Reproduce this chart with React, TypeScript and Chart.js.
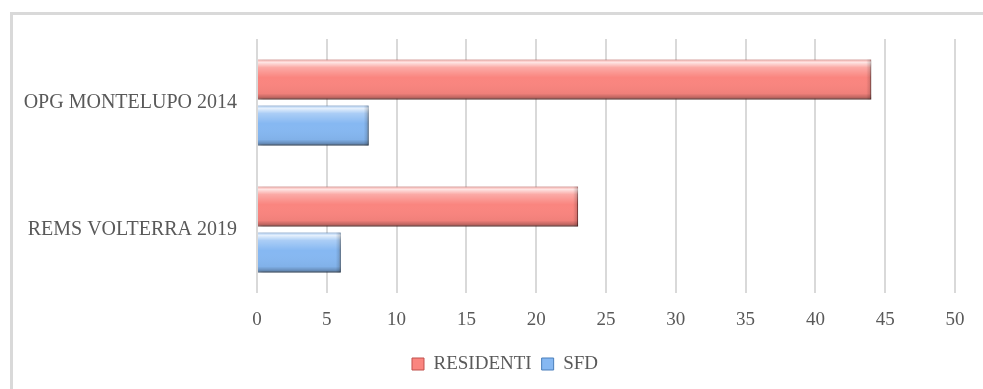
import React, { useEffect, useRef } from "react";
import { Chart, registerables } from "chart.js";

Chart.register(...registerables);

const categories = ["OPG MONTELUPO 2014", "REMS VOLTERRA 2019"];
const residenti = [44, 23];
const sfd = [8, 6];
const xTicks = [0, 5, 10, 15, 20, 25, 30, 35, 40, 45, 50];

const FONT = "'Liberation Serif', 'DejaVu Serif', serif";
const TEXT = "#595959";

const bevelPlugin = {
  id: "bevel",
  afterLayout(chart: any) {
    if (chart.legend) {
      chart.legend.left += 27.5;
      chart.legend.right += 27.5;
    }
  },
  beforeDatasetsDraw(chart: any) {
    const ctx = chart.ctx;
    ctx.save();
    ctx.shadowColor = "rgba(0,0,0,0.35)";
    ctx.shadowBlur = 4;
    ctx.shadowOffsetX = 2;
    ctx.shadowOffsetY = 2;
  },
  afterDatasetsDraw(chart: any) {
    const ctx = chart.ctx;
    ctx.restore();
    chart.data.datasets.forEach((_ds: any, i: number) => {
      const meta = chart.getDatasetMeta(i);
      meta.data.forEach((el: any) => {
        const { x, y, base, height } = el.getProps(["x", "y", "base", "height"], true);
        const left = Math.min(x, base);
        const w = Math.abs(x - base);
        const top = y - height / 2;
        ctx.save();
        const g = ctx.createLinearGradient(0, top, 0, top + height);
        g.addColorStop(0, "rgba(255,255,255,0.15)");
        g.addColorStop(0.07, "rgba(255,255,255,0.8)");
        g.addColorStop(0.2, "rgba(255,255,255,0.3)");
        g.addColorStop(0.45, "rgba(255,255,255,0.0)");
        g.addColorStop(0.85, "rgba(0,0,0,0.04)");
        g.addColorStop(0.93, "rgba(0,0,0,0.2)");
        g.addColorStop(1, "rgba(0,0,0,0.38)");
        ctx.fillStyle = g;
        ctx.fillRect(left, top, w, height);
        const gr = ctx.createLinearGradient(left + w - 5, 0, left + w, 0);
        gr.addColorStop(0, "rgba(0,0,0,0)");
        gr.addColorStop(1, "rgba(0,0,0,0.2)");
        ctx.fillStyle = gr;
        ctx.fillRect(left + w - 5, top, 5, height);
        ctx.restore();
      });
    });
  },
};

export default function App() {
  const ref = useRef<HTMLCanvasElement>(null);
  useEffect(() => {
    if (!ref.current) return;
    const chart = new Chart(ref.current, {
      type: "bar",
      data: {
        labels: categories,
        datasets: [
          {
            label: "RESIDENTI",
            data: residenti,
            backgroundColor: "#fa857f",
            borderColor: "#c0504d",
            borderWidth: 1,
            categoryPercentage: 0.725,
            barPercentage: 0.87,
          },
          {
            label: "SFD",
            data: sfd,
            backgroundColor: "#86b8f2",
            borderColor: "#4a7ebb",
            borderWidth: 1,
            categoryPercentage: 0.725,
            barPercentage: 0.87,
          },
        ],
      },
      options: {
        indexAxis: "y",
        responsive: false,
        animation: false,
        layout: { padding: { left: 0, right: 28, top: 39, bottom: 5.5 } },
        scales: {
          x: {
            min: 0,
            max: 50,
            afterBuildTicks: (s: any) => {
              s.ticks = xTicks.map((v) => ({ value: v }));
            },
            afterFit: (s: any) => {
              s.height = 51.5;
            },
            grid: { color: "#d9d9d9", lineWidth: 2, drawTicks: false },
            border: { display: false },
            ticks: { color: TEXT, font: { family: FONT, size: 19 }, padding: 16 },
          },
          y: {
            afterFit: (s: any) => {
              s.width = 257;
            },
            grid: { display: false, drawTicks: false },
            border: { display: false },
            ticks: { color: TEXT, font: { family: FONT, size: 20 }, padding: 20 },
          },
        },
        plugins: {
          legend: {
            position: "bottom",
            labels: {
              color: TEXT,
              font: { family: FONT, size: 19 },
              boxWidth: 12,
              boxHeight: 12,
              padding: 10,
            },
          },
          tooltip: { enabled: false },
        },
      },
      plugins: [bevelPlugin],
    } as any);
    return () => chart.destroy();
  }, []);
  return (
    <div
      style={{
        position: "fixed",
        left: 0,
        top: 0,
        width: 983,
        height: 389,
        overflow: "hidden",
        background: "#fff",
      }}
    >
      <div
        style={{
          position: "absolute",
          left: 10,
          top: 12,
          width: 2000,
          height: 2000,
          borderLeft: "3px solid #d9d9d9",
          borderTop: "3px solid #d9d9d9",
        }}
      />
      <canvas
        ref={ref}
        width={983}
        height={389}
        style={{ position: "absolute", left: 0, top: 0, width: 983, height: 389 }}
      />
    </div>
  );
}
